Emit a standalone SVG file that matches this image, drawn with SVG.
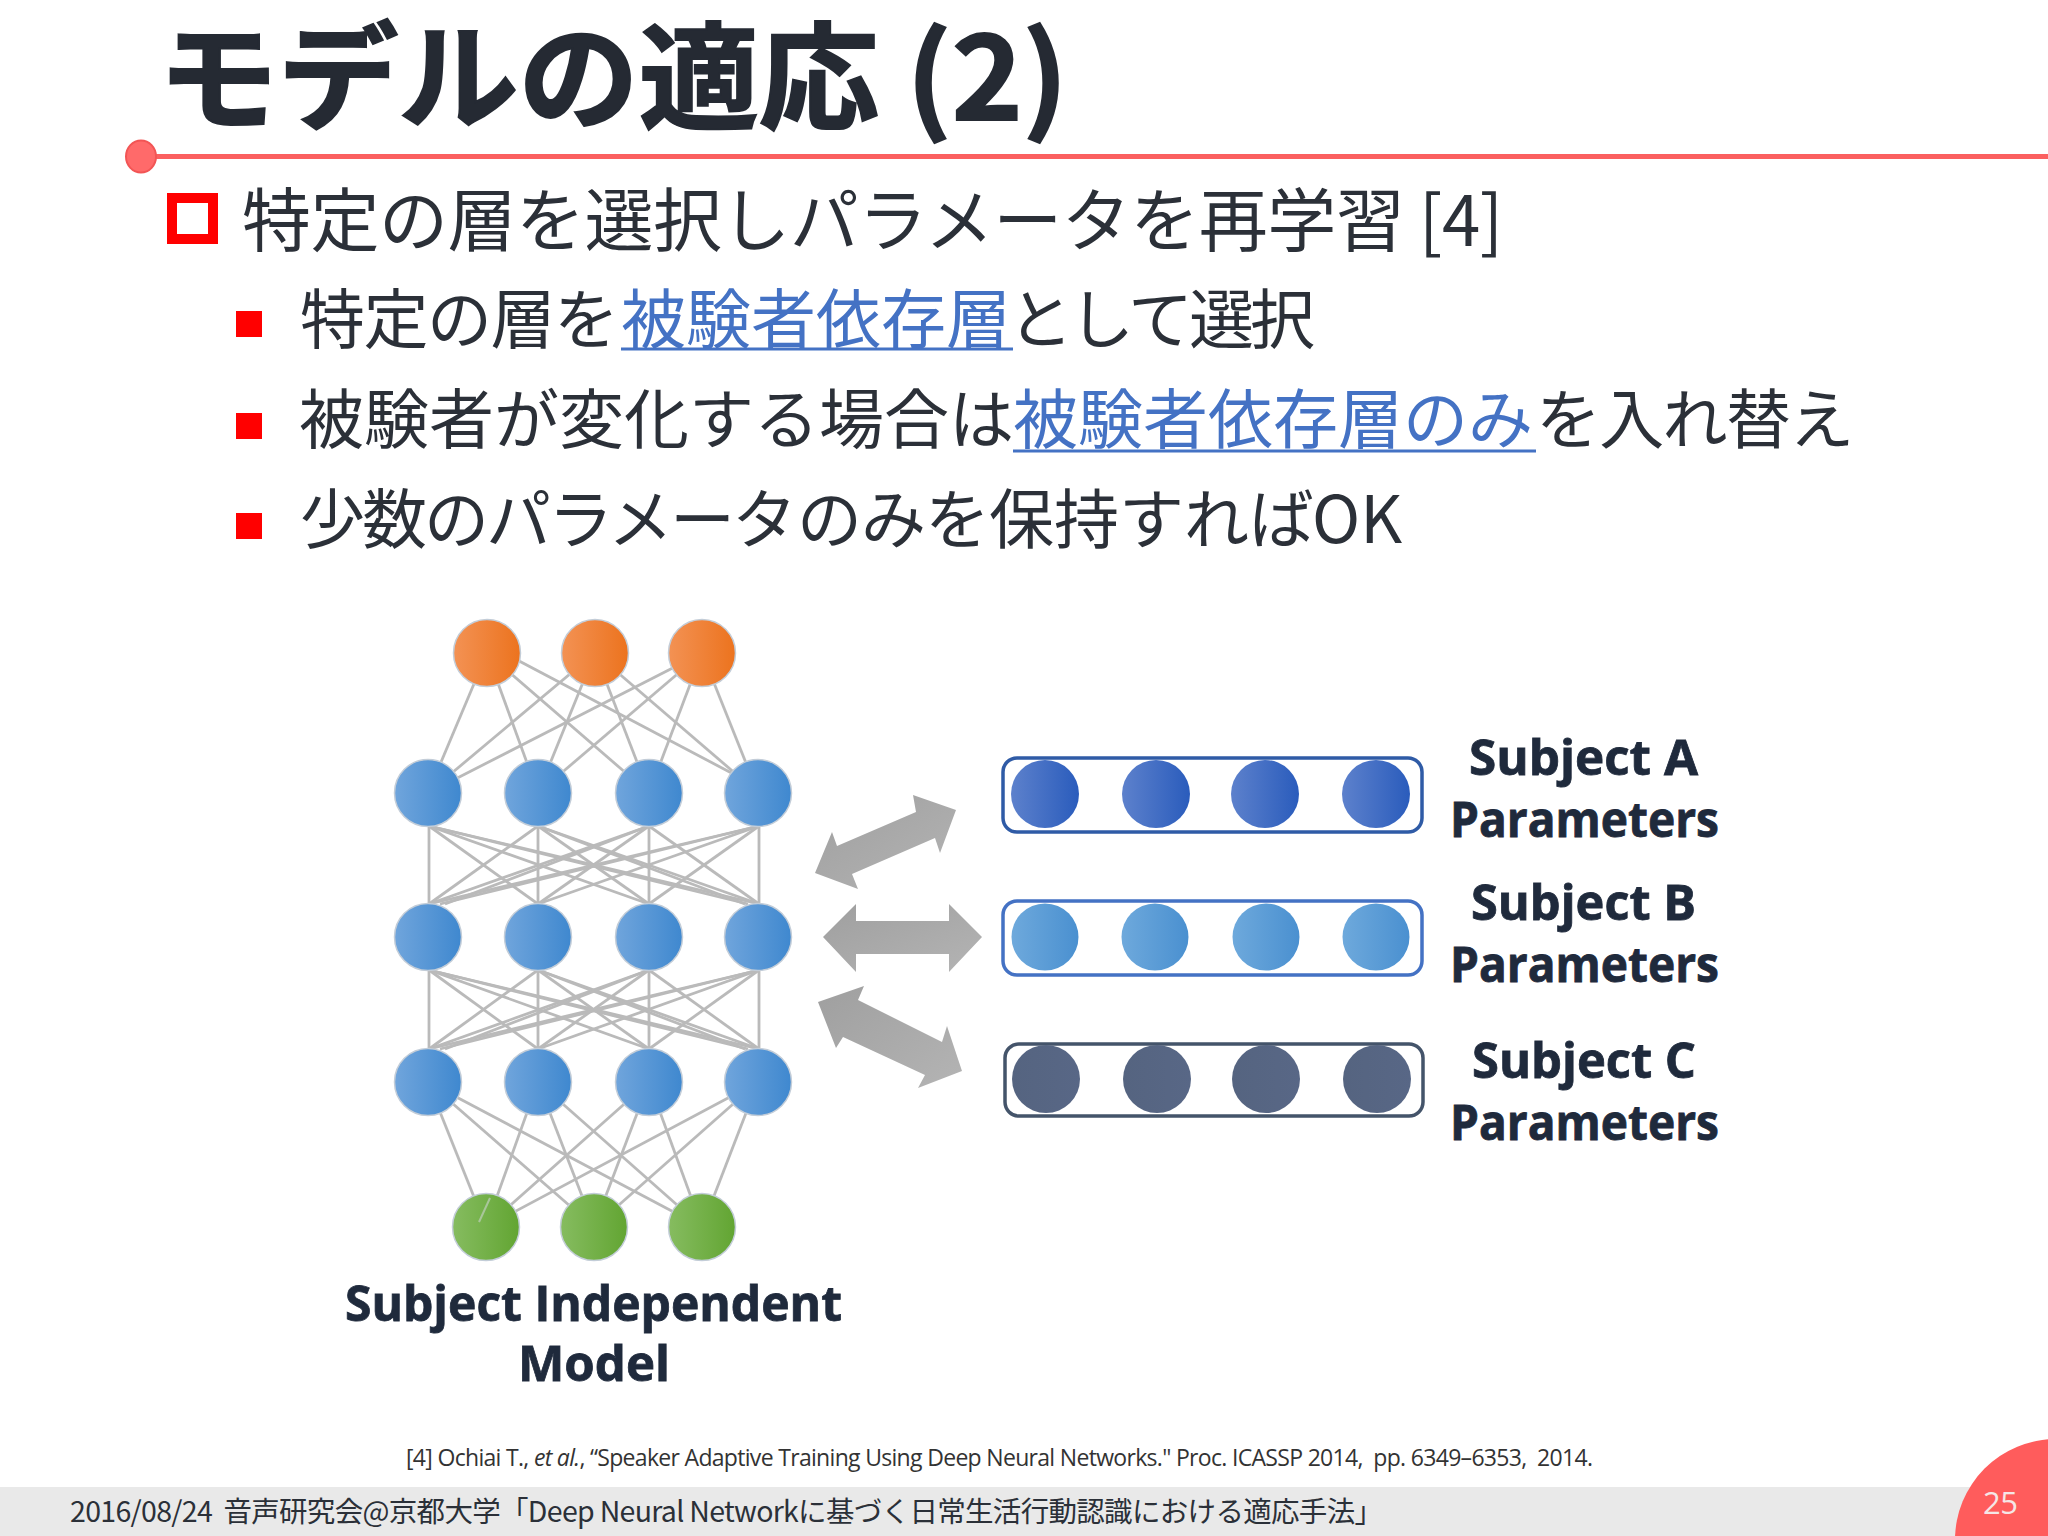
<svg xmlns="http://www.w3.org/2000/svg" width="2048" height="1536" viewBox="0 0 2048 1536">
<style>
.jp{font-family:"Noto Sans CJK JP","Noto Sans",sans-serif;fill:#2b3038}
.t1{font-size:69px}
.t2{font-size:65px}
.link{fill:#4472c4}
.lb{font-family:"Open Sans","Noto Sans",sans-serif;font-weight:700;font-size:49px;fill:#1f2a3c;stroke:#1f2a3c;stroke-width:.8}
.edge{stroke:#bababa;stroke-width:2.8;fill:none}
.ul{stroke:#4472c4;stroke-width:3}
.n{stroke:#c3cdd8;stroke-width:1.5}
.bar{fill:#fff;stroke-width:3.5}
.arrow{fill:url(#gGray);stroke:none}
.sq{fill:#f00}
</style>
<defs>
<linearGradient id="gO"><stop offset="0" stop-color="#f39254"/><stop offset="1" stop-color="#ec731e"/></linearGradient>
<linearGradient id="gB"><stop offset="0" stop-color="#70a5dc"/><stop offset="1" stop-color="#3f88cf"/></linearGradient>
<linearGradient id="gG"><stop offset="0" stop-color="#86bc60"/><stop offset="1" stop-color="#62a532"/></linearGradient>
<linearGradient id="gA"><stop offset="0" stop-color="#5d81cc"/><stop offset="1" stop-color="#2a5cbc"/></linearGradient>
<linearGradient id="gS"><stop offset="0" stop-color="#6ea9dc"/><stop offset="1" stop-color="#4a90d0"/></linearGradient>
<linearGradient id="gC"><stop offset="0" stop-color="#556480"/><stop offset="1" stop-color="#586786"/></linearGradient>
<linearGradient id="gGray" x1="0" y1="0" x2="1" y2="1"><stop offset="0" stop-color="#9f9f9f"/><stop offset="1" stop-color="#b4b4b4"/></linearGradient>
</defs>
<rect width="2048" height="1536" fill="#fff"/>

<g id="title">
<text class="jp" x="158" y="120" font-size="116" font-weight="700" style="fill:#252a33;stroke:#252a33;stroke-width:2" textLength="910" lengthAdjust="spacingAndGlyphs" xml:space="preserve">モデルの適応 (2)</text>
<line x1="140" y1="156.5" x2="2048" y2="156.5" stroke="#fb6060" stroke-width="5"/>
<ellipse cx="141" cy="156.5" rx="15" ry="16" fill="#ff6a6a" stroke="#f25555" stroke-width="2"/>
</g>

<g id="bullets">
<rect x="172" y="198" width="41" height="41" fill="none" stroke="#f00" stroke-width="10"/>
<text class="jp t1" x="242" y="246" textLength="1261" xml:space="preserve">特定の層を選択しパラメータを再学習 [4]</text>
<rect class="sq" x="236" y="311" width="26" height="26"/>
<text class="jp t2" y="343"><tspan x="300" letter-spacing="-1.5">特定の層を</tspan><tspan class="link" x="621">被験者依存層</tspan><tspan x="1008" letter-spacing="-4">として選択</tspan></text>
<line class="ul" x1="621" y1="349" x2="1013" y2="349"/>
<rect class="sq" x="236" y="413" width="26" height="26"/>
<text class="jp t2" y="443"><tspan x="299">被験者が変化する場合は</tspan><tspan class="link" x="1013">被験者依存層のみ</tspan><tspan x="1536" letter-spacing="-1.7">を入れ替え</tspan></text>
<line class="ul" x1="1013" y1="451" x2="1536" y2="451"/>
<rect class="sq" x="236" y="513" width="26" height="26"/>
<text class="jp t2" y="543"><tspan x="300" letter-spacing="-3">少数のパラメータ</tspan><tspan x="797" letter-spacing="-1">のみを</tspan><tspan x="989">保持すれば</tspan><tspan x="1312">OK</tspan></text>
</g>

<g id="connectors">
<line class="edge" x1="487" y1="653" x2="428" y2="793"/><line class="edge" x1="487" y1="653" x2="538" y2="793"/><line class="edge" x1="487" y1="653" x2="649" y2="793"/><line class="edge" x1="487" y1="644" x2="758" y2="787"/>
<line class="edge" x1="595" y1="653" x2="428" y2="793"/><line class="edge" x1="595" y1="653" x2="538" y2="793"/><line class="edge" x1="595" y1="653" x2="649" y2="793"/><line class="edge" x1="595" y1="653" x2="758" y2="793"/>
<line class="edge" x1="702" y1="653" x2="428" y2="793"/><line class="edge" x1="702" y1="653" x2="538" y2="793"/><line class="edge" x1="702" y1="653" x2="649" y2="793"/><line class="edge" x1="702" y1="653" x2="758" y2="793"/>

<line class="edge" x1="429" y1="826" x2="429" y2="904"/><line class="edge" x1="429" y1="826" x2="538" y2="904"/><line class="edge" x1="429" y1="826" x2="649" y2="904"/><line class="edge" x1="429" y1="826" x2="759" y2="904"/><line class="edge" x1="429" y1="826" x2="748" y2="904"/>
<line class="edge" x1="538" y1="826" x2="429" y2="904"/><line class="edge" x1="538" y1="826" x2="538" y2="904"/><line class="edge" x1="538" y1="826" x2="649" y2="904"/><line class="edge" x1="538" y1="826" x2="759" y2="904"/><line class="edge" x1="538" y1="826" x2="745" y2="904"/>
<line class="edge" x1="649" y1="826" x2="429" y2="904"/><line class="edge" x1="649" y1="826" x2="538" y2="904"/><line class="edge" x1="649" y1="826" x2="649" y2="904"/><line class="edge" x1="649" y1="826" x2="759" y2="904"/><line class="edge" x1="649" y1="826" x2="445" y2="904"/>
<line class="edge" x1="759" y1="826" x2="429" y2="904"/><line class="edge" x1="759" y1="826" x2="538" y2="904"/><line class="edge" x1="759" y1="826" x2="649" y2="904"/><line class="edge" x1="759" y1="826" x2="759" y2="904"/><line class="edge" x1="759" y1="826" x2="440" y2="904"/>

<line class="edge" x1="429" y1="970" x2="429" y2="1049"/><line class="edge" x1="429" y1="970" x2="538" y2="1049"/><line class="edge" x1="429" y1="970" x2="649" y2="1049"/><line class="edge" x1="429" y1="970" x2="759" y2="1049"/><line class="edge" x1="429" y1="970" x2="748" y2="1049"/>
<line class="edge" x1="538" y1="970" x2="429" y2="1049"/><line class="edge" x1="538" y1="970" x2="538" y2="1049"/><line class="edge" x1="538" y1="970" x2="649" y2="1049"/><line class="edge" x1="538" y1="970" x2="759" y2="1049"/><line class="edge" x1="538" y1="970" x2="745" y2="1049"/>
<line class="edge" x1="649" y1="970" x2="429" y2="1049"/><line class="edge" x1="649" y1="970" x2="538" y2="1049"/><line class="edge" x1="649" y1="970" x2="649" y2="1049"/><line class="edge" x1="649" y1="970" x2="759" y2="1049"/><line class="edge" x1="649" y1="970" x2="445" y2="1049"/>
<line class="edge" x1="759" y1="970" x2="429" y2="1049"/><line class="edge" x1="759" y1="970" x2="538" y2="1049"/><line class="edge" x1="759" y1="970" x2="649" y2="1049"/><line class="edge" x1="759" y1="970" x2="759" y2="1049"/><line class="edge" x1="759" y1="970" x2="440" y2="1049"/>

<line class="edge" x1="428" y1="1082" x2="486" y2="1227"/><line class="edge" x1="428" y1="1082" x2="594" y2="1227"/><line class="edge" x1="428" y1="1082" x2="702" y2="1227"/>
<line class="edge" x1="538" y1="1082" x2="486" y2="1227"/><line class="edge" x1="538" y1="1082" x2="594" y2="1227"/><line class="edge" x1="538" y1="1082" x2="702" y2="1227"/>
<line class="edge" x1="649" y1="1082" x2="486" y2="1227"/><line class="edge" x1="649" y1="1082" x2="594" y2="1227"/><line class="edge" x1="649" y1="1082" x2="702" y2="1227"/>
<line class="edge" x1="758" y1="1082" x2="486" y2="1227"/><line class="edge" x1="758" y1="1082" x2="594" y2="1227"/><line class="edge" x1="758" y1="1082" x2="702" y2="1227"/>
</g>

<g id="layer-output">
<circle class="n" cx="487" cy="653" r="33.5" fill="url(#gO)"/><circle class="n" cx="595" cy="653" r="33.5" fill="url(#gO)"/><circle class="n" cx="702" cy="653" r="33.5" fill="url(#gO)"/>
</g>
<g id="layer-h1">
<circle class="n" cx="428" cy="793" r="33.5" fill="url(#gB)"/><circle class="n" cx="538" cy="793" r="33.5" fill="url(#gB)"/><circle class="n" cx="649" cy="793" r="33.5" fill="url(#gB)"/><circle class="n" cx="758" cy="793" r="33.5" fill="url(#gB)"/>
</g>
<g id="layer-h2">
<circle class="n" cx="428" cy="937" r="33.5" fill="url(#gB)"/><circle class="n" cx="538" cy="937" r="33.5" fill="url(#gB)"/><circle class="n" cx="649" cy="937" r="33.5" fill="url(#gB)"/><circle class="n" cx="758" cy="937" r="33.5" fill="url(#gB)"/>
</g>
<g id="layer-h3">
<circle class="n" cx="428" cy="1082" r="33.5" fill="url(#gB)"/><circle class="n" cx="538" cy="1082" r="33.5" fill="url(#gB)"/><circle class="n" cx="649" cy="1082" r="33.5" fill="url(#gB)"/><circle class="n" cx="758" cy="1082" r="33.5" fill="url(#gB)"/>
</g>
<g id="layer-input">
<circle class="n" cx="486" cy="1227" r="33.5" fill="url(#gG)"/><circle class="n" cx="594" cy="1227" r="33.5" fill="url(#gG)"/><circle class="n" cx="702" cy="1227" r="33.5" fill="url(#gG)"/>
<line x1="490" y1="1198" x2="479" y2="1222" stroke="#a9c69a" stroke-width="2"/>
</g>

<g id="arrows">
<polygon class="arrow" points="956,810 913,795 916,812 837,846 832,832 815,873 858,889 852,874 935,838 940,853"/>
<polygon class="arrow" points="982,937 949,904 949,921 856,921 856,904 823,937 856,972 856,954 949,954 949,972"/>
<polygon class="arrow" points="818,1002 864,986 858,1000 942,1042 947,1026 962,1071 918,1088 925,1075 843,1037 836,1048"/>
</g>

<g id="subject-a">
<rect class="bar" x="1003" y="758" width="419" height="74" rx="14" stroke="#2f5ba6"/>
<circle cx="1045" cy="794" r="34" fill="url(#gA)"/><circle cx="1156" cy="794" r="34" fill="url(#gA)"/><circle cx="1265" cy="794" r="34" fill="url(#gA)"/><circle cx="1376" cy="794" r="34" fill="url(#gA)"/>
<text class="lb" x="1469" y="775" textLength="229" lengthAdjust="spacingAndGlyphs">Subject A</text>
<text class="lb" x="1450" y="837" textLength="269" lengthAdjust="spacingAndGlyphs">Parameters</text>
</g>
<g id="subject-b">
<rect class="bar" x="1003" y="901" width="419" height="74" rx="14" stroke="#4472c4"/>
<circle cx="1045" cy="937" r="33.5" fill="url(#gS)"/><circle cx="1155" cy="937" r="33.5" fill="url(#gS)"/><circle cx="1266" cy="937" r="33.5" fill="url(#gS)"/><circle cx="1376" cy="937" r="33.5" fill="url(#gS)"/>
<text class="lb" x="1471" y="920" textLength="225" lengthAdjust="spacingAndGlyphs">Subject B</text>
<text class="lb" x="1450" y="982" textLength="269" lengthAdjust="spacingAndGlyphs">Parameters</text>
</g>
<g id="subject-c">
<rect class="bar" x="1005" y="1044" width="418" height="72" rx="14" stroke="#44546a"/>
<circle cx="1046" cy="1079" r="34" fill="url(#gC)"/><circle cx="1157" cy="1079" r="34" fill="url(#gC)"/><circle cx="1266" cy="1079" r="34" fill="url(#gC)"/><circle cx="1377" cy="1079" r="34" fill="url(#gC)"/>
<text class="lb" x="1472" y="1078" textLength="224" lengthAdjust="spacingAndGlyphs">Subject C</text>
<text class="lb" x="1450" y="1140" textLength="269" lengthAdjust="spacingAndGlyphs">Parameters</text>
</g>
<g id="model-label">
<text class="lb" x="345" y="1321" textLength="497" lengthAdjust="spacingAndGlyphs">Subject Independent</text>
<text class="lb" x="518" y="1381" textLength="152" lengthAdjust="spacingAndGlyphs">Model</text>
</g>

<text id="reference" x="406" y="1466" font-family="'Open Sans','Noto Sans',sans-serif" font-size="23" fill="#333" textLength="1187" xml:space="preserve">[4] Ochiai T., <tspan font-style="italic">et al.</tspan>, “Speaker Adaptive Training Using Deep Neural Networks." Proc. ICASSP 2014,  pp. 6349–6353,  2014.</text>

<g id="footer">
<rect x="0" y="1487" width="2048" height="49" fill="#e9e9e9"/>
<text class="jp" x="70" y="1522" font-size="28.5" textLength="1313" xml:space="preserve">2016/08/24  音声研究会@京都大学「Deep Neural Networkに基づく日常生活行動認識における適応手法」</text>
<circle cx="2056" cy="1540" r="101" fill="#ff5c5c"/>
<text x="1983" y="1514" font-family="'Open Sans','Noto Sans',sans-serif" font-size="31" fill="#f5e6e6" textLength="35">25</text>
</g>
</svg>
